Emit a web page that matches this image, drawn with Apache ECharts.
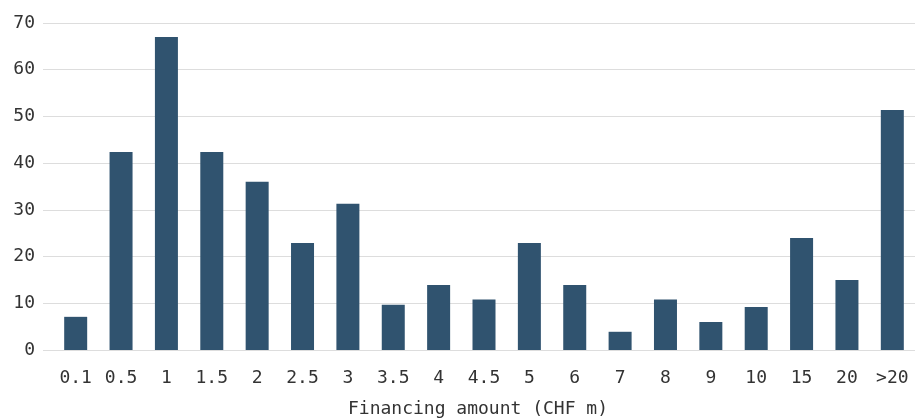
<!DOCTYPE html>
<html>
<head>
<meta charset="utf-8">
<script src="https://cdn.jsdelivr.net/npm/echarts@6/dist/echarts.min.js"></script>
<style>html,body{margin:0;padding:0;background:#fff}#c{width:915px;height:419px}</style>
</head>
<body>
<div id="c"></div>
<script>
const categories = ['0.1','0.5','1','1.5','2','2.5','3','3.5','4','4.5','5','6','7','8','9','10','15','20','>20'];
const values = [7.1, 42.4, 67, 42.4, 36, 22.9, 31.3, 9.7, 13.9, 10.8, 22.9, 13.9, 3.9, 10.8, 6, 9.2, 24, 15, 51.4];
const yTicks = [0, 70, 10];
const xTitle = 'Financing amount (CHF m)';

const FONT = '"DejaVu Sans Mono", monospace';
const chart = echarts.init(document.getElementById('c'), null, {renderer: 'canvas'});
chart.setOption({
  animation: false,
  grid: {left: 53, right: 0, top: 23, bottom: 69, containLabel: false, outerBoundsMode: 'none'},
  xAxis: {
    type: 'category',
    data: categories,
    name: xTitle,
    nameLocation: 'middle',
    nameGap: 50,
    nameTextStyle: {fontFamily: FONT, fontSize: 18, color: '#333', padding: [0, 12, 0, 0]},
    axisLine: {show: false},
    axisTick: {show: false},
    axisLabel: {fontFamily: FONT, fontSize: 18, color: '#333', margin: 19, interval: 0}
  },
  yAxis: {
    type: 'value',
    min: yTicks[0], max: yTicks[1], interval: yTicks[2],
    axisLine: {show: false},
    axisTick: {show: true, length: 10, lineStyle: {color: '#dddddd'}},
    splitLine: {lineStyle: {color: '#dddddd', width: 1}},
    axisLabel: {fontFamily: FONT, fontSize: 18, color: '#333', margin: 18}
  },
  series: [{
    type: 'bar',
    data: values,
    barWidth: 23,
    itemStyle: {color: '#30536f'}
  }]
});
</script>
</body>
</html>
